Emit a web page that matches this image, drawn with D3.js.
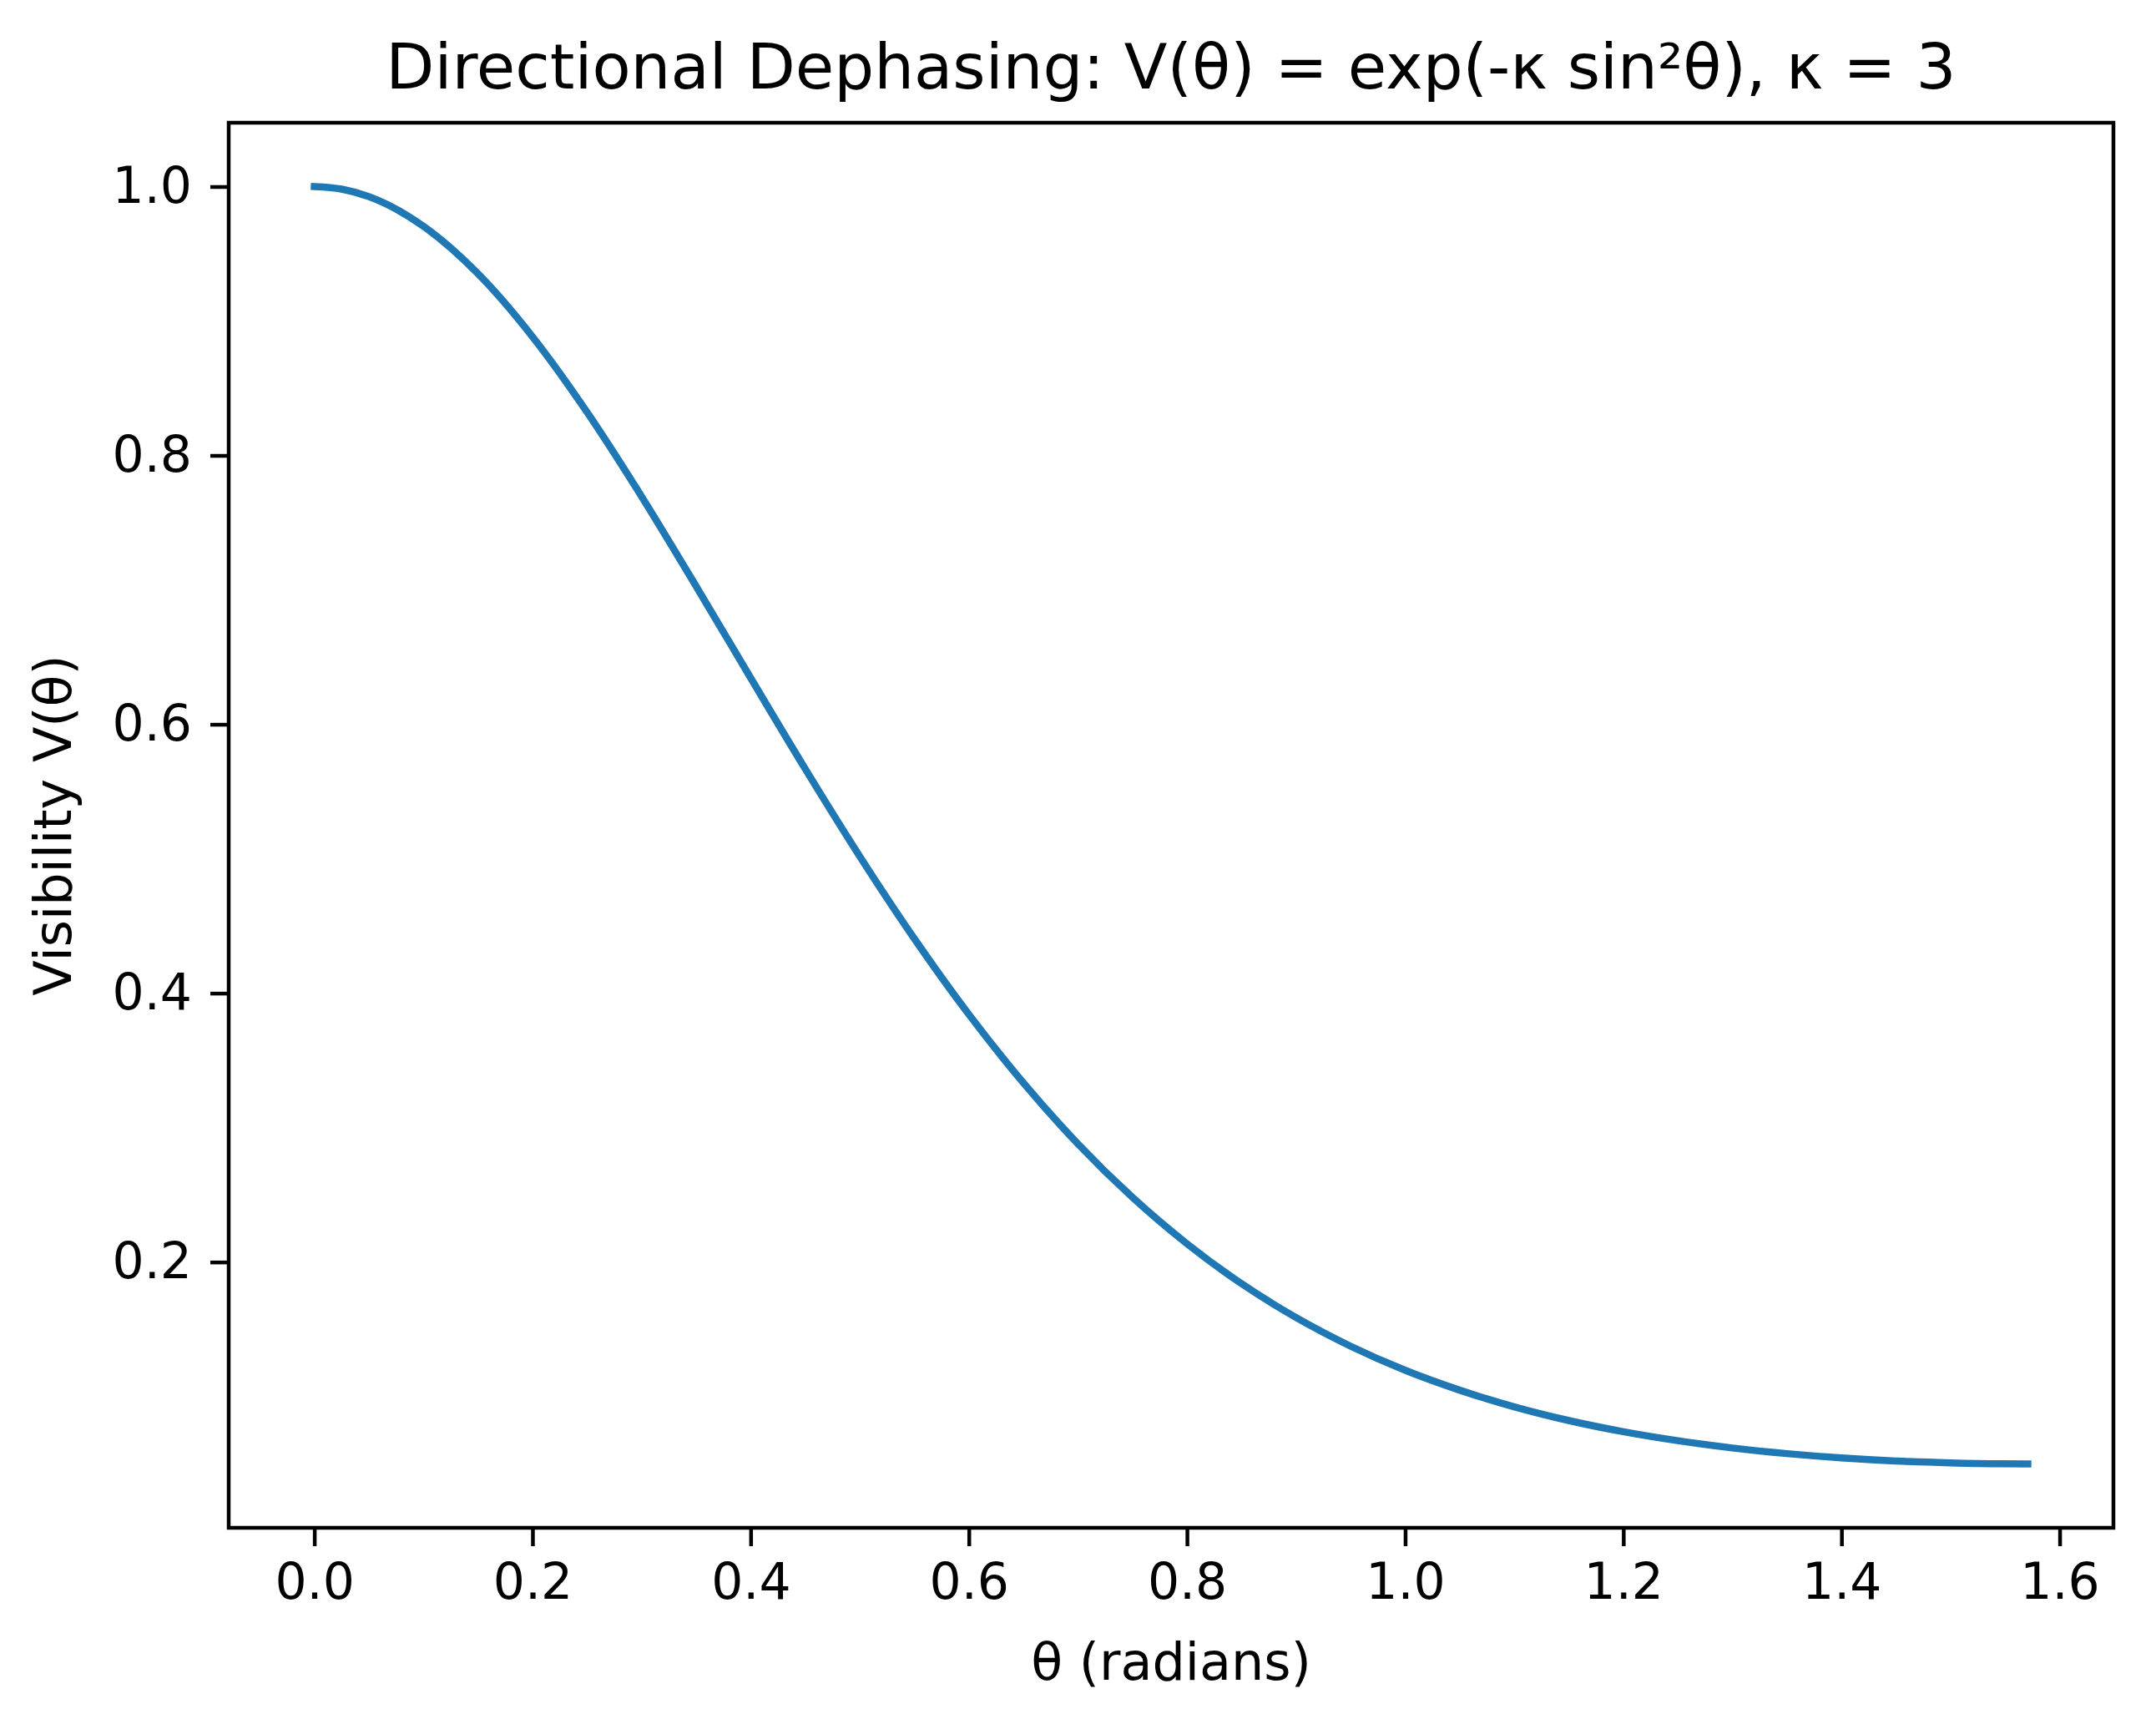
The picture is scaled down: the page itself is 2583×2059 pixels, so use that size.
<!DOCTYPE html>
<html>
<head>
<meta charset="utf-8">
<script src="https://cdn.jsdelivr.net/npm/d3@7/dist/d3.min.js"></script>
<style>
  html, body { margin: 0; padding: 0; background: #ffffff; }
  svg { display: block; }
  text { font-family: "DejaVu Sans", sans-serif; fill: #000; }
</style>
</head>
<body>
<svg id="chart" width="2583" height="2059"></svg>
<script>
// ---- data ----
const theta = [0.00, 0.025, 0.05, 0.10, 0.15, 0.20, 0.25, 0.30, 0.35, 0.40, 0.45, 0.50,
               0.55, 0.60, 0.65, 0.70, 0.75, 0.80, 0.85, 0.90, 0.95, 1.00,
               1.05, 1.10, 1.15, 1.20, 1.25, 1.30, 1.35, 1.40, 1.45, 1.50, 1.545, 1.5708];
const visibility = [1.0000, 0.9981, 0.9925, 0.9705, 0.9352, 0.8883, 0.8322, 0.7695, 0.7027, 0.6345, 0.5669, 0.5018,
                    0.4406, 0.3842, 0.3333, 0.2879, 0.2481, 0.2136, 0.1839, 0.1587, 0.1374, 0.1195,
                    0.1047, 0.0923, 0.0821, 0.0738, 0.0671, 0.0617, 0.0575, 0.0543, 0.0520, 0.0506, 0.0499, 0.0498];
const xTicks = [0.0, 0.2, 0.4, 0.6, 0.8, 1.0, 1.2, 1.4, 1.6];
const yTicks = [0.2, 0.4, 0.6, 0.8, 1.0];
const xLimits = [-0.0785, 1.6493];
const yLimits = [0.0023, 1.0475];
const titleText = "Directional Dephasing: V(θ) = exp(-κ sin²θ), κ = 3";
const xLabelText = "θ (radians)";
const yLabelText = "Visibility V(θ)";

(function () {
  // ---- layout ----
  const pLeft = 274, pRight = 2532, pTop = 147, pBottom = 1830;
  const svg = d3.select("#chart");

  const x = d3.scaleLinear().domain(xLimits).range([pLeft, pRight]);
  const y = d3.scaleLinear().domain(yLimits).range([pBottom, pTop]);

  const tickFont = 60;

  // line
  const points = theta.map((t, i) => [t, visibility[i]]);
  const line = d3.line().x(d => x(d[0])).y(d => y(d[1])).curve(d3.curveMonotoneX);
  svg.append("path")
    .datum(points)
    .attr("d", line)
    .attr("fill", "none")
    .attr("stroke", "#1f77b4")
    .attr("stroke-width", 8.5)
    .attr("stroke-linecap", "square")
    .attr("stroke-linejoin", "round");

  // axes
  const xAxis = d3.axisBottom(x).tickValues(xTicks).tickFormat(d3.format(".1f"))
    .tickSize(22).tickPadding(20);
  const gx = svg.append("g").attr("transform", `translate(0,${pBottom})`).call(xAxis);
  const yAxis = d3.axisLeft(y).tickValues(yTicks).tickFormat(d3.format(".1f"))
    .tickSize(22).tickPadding(22);
  const gy = svg.append("g").attr("transform", `translate(${pLeft},0)`).call(yAxis);

  [gx, gy].forEach(g => {
    g.select(".domain").remove();
    g.attr("font-family", null).attr("font-size", null);
    g.selectAll(".tick line").attr("stroke", "#000").attr("stroke-width", 4.5);
    g.selectAll(".tick text")
      .style("font-family", "'DejaVu Sans', sans-serif")
      .style("font-size", tickFont + "px")
      .attr("fill", "#000");
  });

  // frame
  svg.append("rect")
    .attr("x", pLeft).attr("y", pTop)
    .attr("width", pRight - pLeft).attr("height", pBottom - pTop)
    .attr("fill", "none").attr("stroke", "#000").attr("stroke-width", 4.5);

  // title
  svg.append("text")
    .attr("x", (pLeft + pRight) / 2).attr("y", 106)
    .attr("text-anchor", "middle")
    .style("font-size", "75.5px")
    .text(titleText);

  // x label
  svg.append("text")
    .attr("x", (pLeft + pRight) / 2).attr("y", 2012)
    .attr("text-anchor", "middle")
    .style("font-size", "62px")
    .text(xLabelText);

  // y label
  svg.append("text")
    .attr("transform", `translate(85,${(pTop + pBottom) / 2}) rotate(-90)`)
    .attr("text-anchor", "middle")
    .style("font-size", "62px")
    .text(yLabelText);
})();
</script>
</body>
</html>
